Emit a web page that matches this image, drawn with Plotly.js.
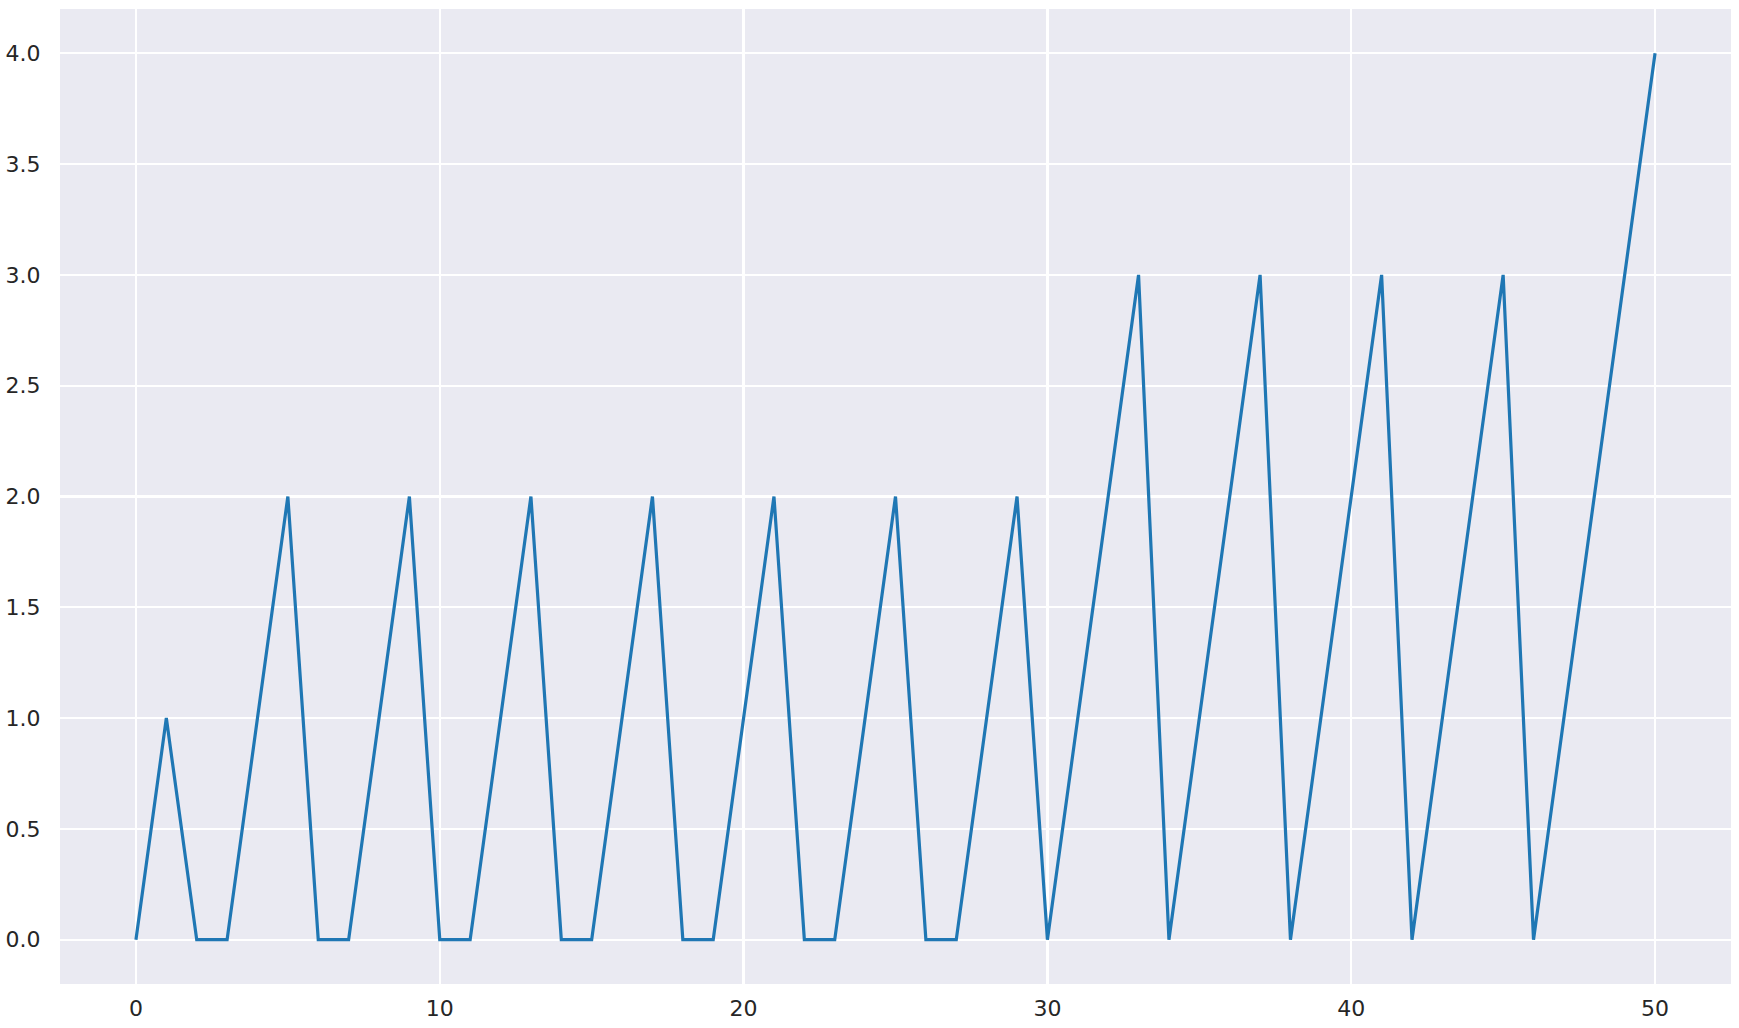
<!DOCTYPE html>
<html>
<head>
<meta charset="utf-8">
<script src="https://cdn.plot.ly/plotly-3.0.1.min.js"></script>
<style>html,body{margin:0;padding:0;background:#fff;}#chart{width:1739px;height:1028px;}</style>
</head>
<body>
<div id="chart"></div>
<script>
const xValues = [0,1,2,3,4,5,6,7,8,9,10,11,12,13,14,15,16,17,18,19,20,21,22,23,24,25,26,27,28,29,30,31,32,33,34,35,36,37,38,39,40,41,42,43,44,45,46,47,48,49,50];
const yValues = [0,1,0,0,1,2,0,0,1,2,0,0,1,2,0,0,1,2,0,0,1,2,0,0,1,2,0,0,1,2,0,1,2,3,0,1,2,3,0,1,2,3,0,1,2,3,0,1,2,3,4];
const xTicks = [0,10,20,30,40,50];
const yTicks = [0,0.5,1,1.5,2,2.5,3,3.5,4];
const yTickLabels = ["0.0","0.5","1.0","1.5","2.0","2.5","3.0","3.5","4.0"];

const trace = {
  x: xValues, y: yValues, type: 'scatter', mode: 'lines',
  line: {color: '#1f77b4', width: 3.2}, hoverinfo: 'x+y'
};
const axisCommon = {
  showgrid: true, gridcolor: '#ffffff', gridwidth: 2.2,
  zeroline: false, showline: false,
  ticks: 'outside', tickcolor: 'rgba(0,0,0,0)',
  tickfont: {family: 'DejaVu Sans', size: 22, color: '#262626'}
};
const layout = {
  width: 1739, height: 1028,
  margin: {l: 60, r: 8, t: 9, b: 44, pad: 0},
  paper_bgcolor: '#ffffff', plot_bgcolor: '#eaeaf2',
  showlegend: false,
  xaxis: Object.assign({}, axisCommon, {range: [-2.5, 52.5], tickvals: xTicks, ticktext: xTicks.map(String), ticklen: 5}),
  yaxis: Object.assign({}, axisCommon, {range: [-0.2, 4.2], tickvals: yTicks, ticktext: yTickLabels, ticklen: 14})
};
Plotly.newPlot('chart', [trace], layout, {displayModeBar: false, staticPlot: true});
</script>
</body>
</html>
